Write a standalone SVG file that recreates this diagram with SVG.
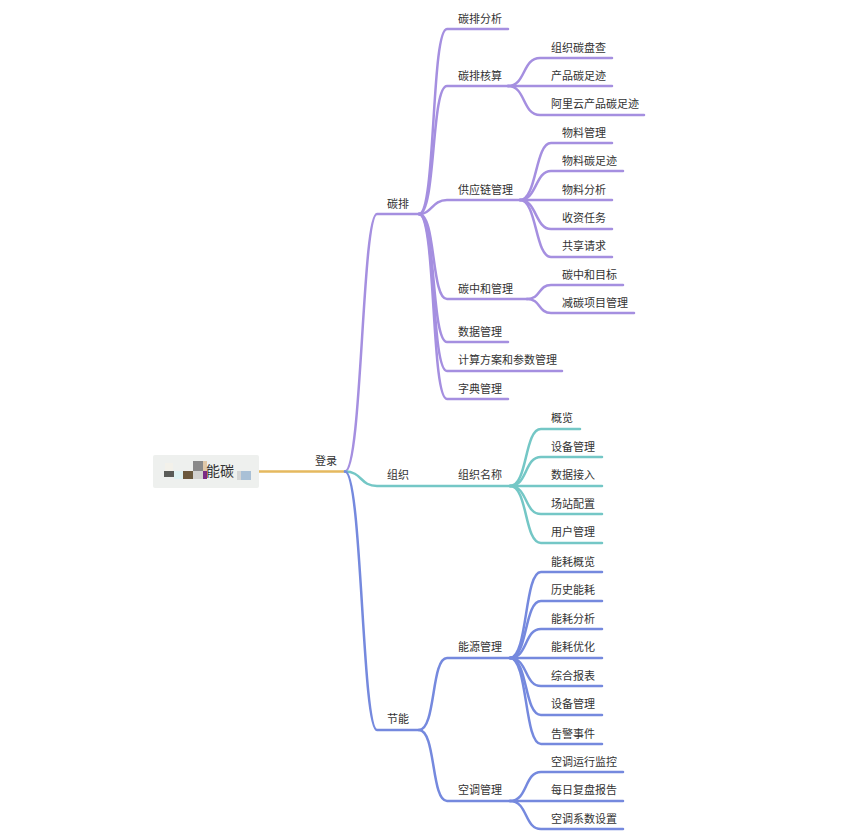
<svg xmlns="http://www.w3.org/2000/svg" width="859" height="836" viewBox="0 0 859 836">
<style>
text{font-family:"Noto Sans CJK SC","Noto Sans",sans-serif;font-size:11px;fill:#333}
.c{fill:none;stroke-width:2.5;stroke-linecap:round}
.p{stroke:#a58fe0}.t{stroke:#74c7c6}.b{stroke:#7589de}.y{stroke:#e5b95f}
</style>
<rect width="859" height="836" fill="#fff"/>
<g id="connectors">
<path class="c y" d="M259 471.500H345"/>
<path class="c p" d="M345 471.500C362 471.500 362 214 377 214H420"/>
<path class="c p" d="M419 214C436 214 431 29 447 29H508"/>
<path class="c p" d="M419 214C436 214 431 86 447 86H508"/>
<path class="c p" d="M419 214C432 214 432 200 447 200H520"/>
<path class="c p" d="M419 214C436 214 431 299 447 299H527"/>
<path class="c p" d="M419 214C436 214 431 342 447 342H508"/>
<path class="c p" d="M419 214C436 214 431 371 447 371H562"/>
<path class="c p" d="M419 214C436 214 431 399 447 399H508"/>
<path class="c p" d="M508 86C526 86 522 58 540 58H612"/>
<path class="c p" d="M508 86H612"/>
<path class="c p" d="M508 86C526 86 522 115 540 115H644"/>
<path class="c p" d="M520 200C537 200 535 143 551 143H612"/>
<path class="c p" d="M520 200C537 200 535 171 551 171H623"/>
<path class="c p" d="M520 200H612"/>
<path class="c p" d="M520 200C537 200 535 229 551 229H612"/>
<path class="c p" d="M520 200C537 200 535 257 551 257H612"/>
<path class="c p" d="M527 299C541 299 538 285 551 285H623"/>
<path class="c p" d="M527 299C541 299 538 313 551 313H634"/>
<path class="c t" d="M345 471.500C362 471.500 360 486 377 486H510"/>
<path class="c t" d="M510 486C528 486 524 429 541 429H580"/>
<path class="c t" d="M510 486C528 486 524 457 541 457H602"/>
<path class="c t" d="M510 486H602"/>
<path class="c t" d="M510 486C528 486 524 514 541 514H602"/>
<path class="c t" d="M510 486C528 486 524 543 541 543H602"/>
<path class="c b" d="M345 471.500C362 471.500 362 730 377 730H419"/>
<path class="c b" d="M419 730C436 730 431 658 447 658H510"/>
<path class="c b" d="M419 730C436 730 431 801 447 801H510"/>
<path class="c b" d="M510 658C528 658 524 572 541 572H602"/>
<path class="c b" d="M510 658C528 658 524 601 541 601H602"/>
<path class="c b" d="M510 658C528 658 524 629 541 629H602"/>
<path class="c b" d="M510 658H602"/>
<path class="c b" d="M510 658C528 658 524 686 541 686H602"/>
<path class="c b" d="M510 658C528 658 524 715 541 715H602"/>
<path class="c b" d="M510 658C528 658 524 744 541 744H602"/>
<path class="c b" d="M510 801C528 801 524 772 541 772H623"/>
<path class="c b" d="M510 801H623"/>
<path class="c b" d="M510 801C528 801 524 829 541 829H623"/>
</g>
<g id="root">
<rect x="153" y="455" width="106" height="33" rx="2" fill="#eef0ee"/>
<rect x="165" y="463" width="8" height="8" fill="#f3f1ea"/>
<rect x="164" y="471" width="10" height="6" fill="#5a5c58"/>
<rect x="174" y="471" width="9" height="8" fill="#dff3f3"/>
<rect x="183" y="471" width="10" height="8" fill="#6b5a3e"/>
<rect x="193" y="461" width="10" height="10" fill="#8a8a8a"/>
<rect x="203" y="461" width="4" height="10" fill="#e0c8a8"/>
<rect x="193" y="471" width="10" height="8" fill="#d2d2cf"/>
<rect x="203" y="471" width="4" height="8" fill="#7b2a85"/>
<text x="206" y="476" style="font-size:14px">能碳</text>
<rect x="237" y="471" width="4" height="9" fill="#d5d5d5"/>
<rect x="241" y="471" width="10" height="9" fill="#a9c0d6"/>
</g>
<g id="nodes">
<text x="315" y="464.500">登录</text>
<text x="387" y="207.500">碳排</text>
<text x="387" y="478.500">组织</text>
<text x="387" y="722.500">节能</text>
<text x="458" y="22.500">碳排分析</text>
<text x="458" y="79.500">碳排核算</text>
<text x="458" y="193.500">供应链管理</text>
<text x="458" y="292.500">碳中和管理</text>
<text x="458" y="335.500">数据管理</text>
<text x="458" y="363.500">计算方案和参数管理</text>
<text x="458" y="392.500">字典管理</text>
<text x="458" y="478.500">组织名称</text>
<text x="458" y="650.500">能源管理</text>
<text x="458" y="793.500">空调管理</text>
<text x="551" y="51.500">组织碳盘查</text>
<text x="551" y="79.500">产品碳足迹</text>
<text x="551" y="107.500">阿里云产品碳足迹</text>
<text x="562" y="136.500">物料管理</text>
<text x="562" y="164.500">物料碳足迹</text>
<text x="562" y="193.500">物料分析</text>
<text x="562" y="221.500">收资任务</text>
<text x="562" y="249.500">共享请求</text>
<text x="562" y="278.500">碳中和目标</text>
<text x="562" y="306.500">减碳项目管理</text>
<text x="551" y="421.500">概览</text>
<text x="551" y="450.500">设备管理</text>
<text x="551" y="478.500">数据接入</text>
<text x="551" y="507.500">场站配置</text>
<text x="551" y="535.500">用户管理</text>
<text x="551" y="565.500">能耗概览</text>
<text x="551" y="593.500">历史能耗</text>
<text x="551" y="622.500">能耗分析</text>
<text x="551" y="650.500">能耗优化</text>
<text x="551" y="679.500">综合报表</text>
<text x="551" y="707.500">设备管理</text>
<text x="551" y="737.500">告警事件</text>
<text x="551" y="765.500">空调运行监控</text>
<text x="551" y="793.500">每日复盘报告</text>
<text x="551" y="822.500">空调系数设置</text>
</g>
</svg>
